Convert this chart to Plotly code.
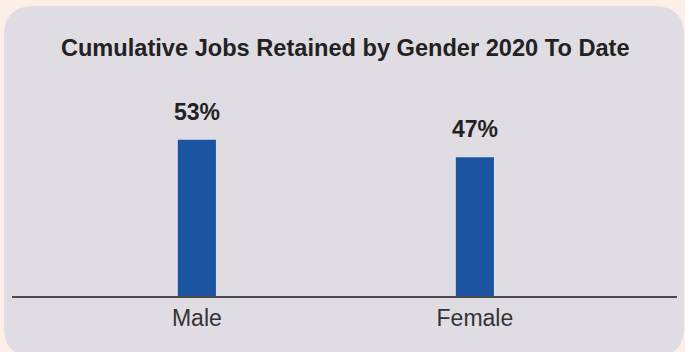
import plotly.graph_objects as go

# Data
categories = ["Male", "Female"]
shares = [53, 47]
positions = [0, 1]

W, H = 685, 352
M_L, M_R, M_T, M_B = 12, 8, 119, 56

PEACH = "#fcefe8"
PANEL = "#e0dce3"
BAR = "#1b54a0"
TEXT = "#222222"

fig = go.Figure()

fig.add_trace(go.Bar(
    x=positions,
    y=shares,
    width=0.137,
    marker=dict(color=BAR, line=dict(width=0)),
    hoverinfo="skip",
))

# value labels above the bars
for xv, v in zip(positions, shares):
    fig.add_annotation(
        x=xv, y=v, xref="x", yref="y",
        text=f"<b>{v}%</b>",
        showarrow=False,
        yanchor="bottom",
        yshift=13,
        font=dict(family="Liberation Sans, Arial, sans-serif", size=23, color=TEXT),
    )

# rounded background panel (pixel coords converted to paper coords)
pw = W - M_L - M_R
ph = H - M_T - M_B


def px(xp):
    return (xp - M_L) / pw


def py(yp):
    return (H - M_B - yp) / ph


x0, x1, y0, y1, r = 4, 684, 6, 357, 30
path = (
    f"M {px(x0 + r)},{py(y0)} "
    f"L {px(x1 - r)},{py(y0)} "
    f"Q {px(x1)},{py(y0)} {px(x1)},{py(y0 + r)} "
    f"L {px(x1)},{py(y1 - r)} "
    f"Q {px(x1)},{py(y1)} {px(x1 - r)},{py(y1)} "
    f"L {px(x0 + r)},{py(y1)} "
    f"Q {px(x0)},{py(y1)} {px(x0)},{py(y1 - r)} "
    f"L {px(x0)},{py(y0 + r)} "
    f"Q {px(x0)},{py(y0)} {px(x0 + r)},{py(y0)} Z"
)
fig.add_shape(type="path", path=path, xref="paper", yref="paper",
              fillcolor=PANEL, line=dict(width=0), layer="below")

fig.update_layout(
    width=W, height=H,
    margin=dict(l=M_L, r=M_R, t=M_T, b=M_B, pad=0),
    paper_bgcolor=PEACH,
    plot_bgcolor="rgba(0,0,0,0)",
    showlegend=False,
    title=dict(
        text="<b>Cumulative Jobs Retained by Gender 2020 To Date</b>",
        x=0.504, xref="container", xanchor="center",
        y=1 - 48 / H, yref="container", yanchor="middle",
        font=dict(family="Liberation Sans, Arial, sans-serif", size=23.6, color=TEXT),
    ),
    xaxis=dict(
        range=[-0.665, 1.727],
        tickvals=positions,
        ticktext=categories,
        showgrid=False, zeroline=False,
        showline=True, linecolor="#4a4a4a", linewidth=2,
        ticks="", ticklabelstandoff=0,
        tickfont=dict(family="Liberation Sans, Arial, sans-serif", size=23, color="#333333"),
        fixedrange=True,
    ),
    yaxis=dict(
        range=[0, 60],
        visible=False,
        showgrid=False, zeroline=False,
        fixedrange=True,
    ),
)

fig.write_html("out.html")
